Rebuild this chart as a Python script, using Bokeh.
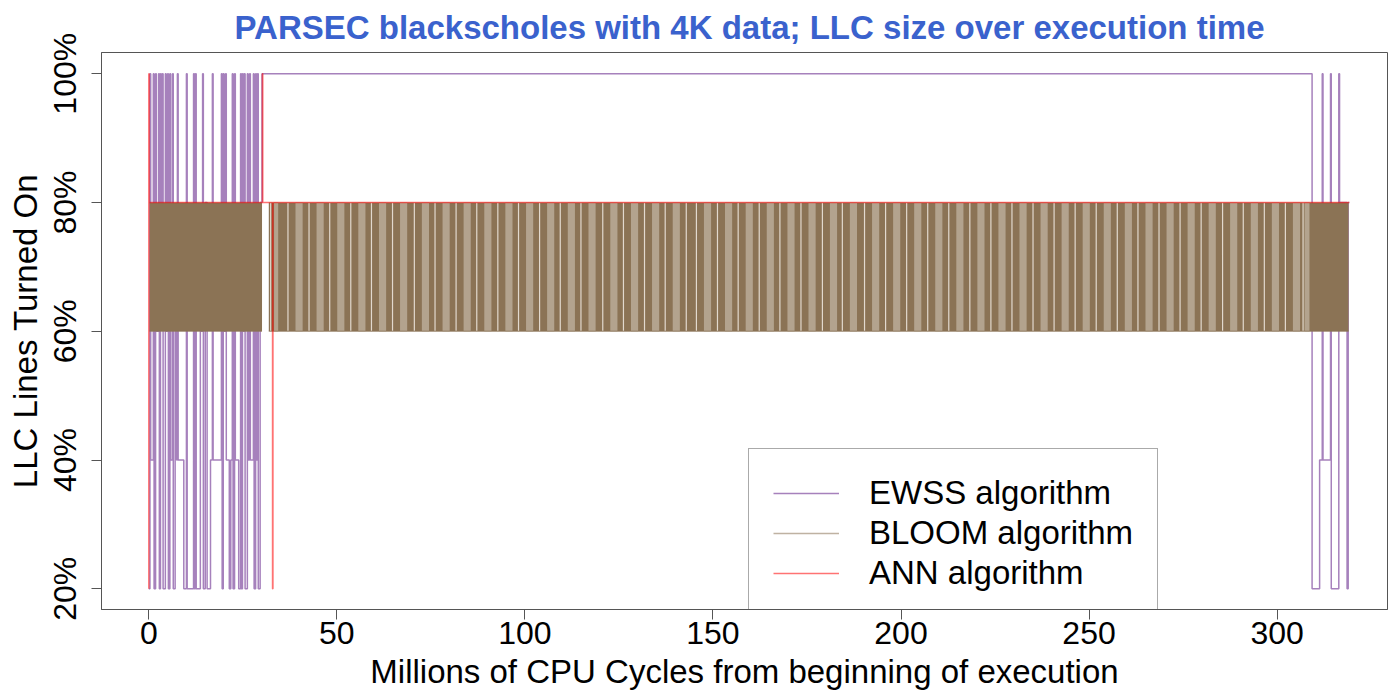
from bokeh.plotting import figure
from bokeh.models import (Range1d, FixedTicker, PrintfTickFormatter,
                          Legend, LegendItem)
from bokeh.embed import file_html
from bokeh.resources import INLINE

# ---------------- data ----------------
title_text = "PARSEC blackscholes with 4K data; LLC size over execution time"
x_label = "Millions of CPU Cycles from beginning of execution"
y_label = "LLC Lines Turned On"
series_names = ["EWSS algorithm", "BLOOM algorithm", "ANN algorithm"]
x_ticks = [0, 50, 100, 150, 200, 250, 300]
y_ticks = [20, 40, 60, 80, 100]

# EWSS: step series (time in millions of cycles, % of LLC lines on)
ewss_t = [0.0, 0.3, 0.5, 1.2, 1.4, 1.8, 2.0, 2.6, 2.8, 3.1, 3.3, 3.6, 3.8, 4.4,
          4.6, 5.0, 5.2, 5.6, 5.8, 6.3, 6.5, 7.0, 7.4, 7.6, 7.8, 9.3, 10.0,
          10.2, 11.9, 12.1, 12.4, 12.6, 13.7, 14.3, 14.5, 15.0, 15.5, 16.4,
          16.9, 17.1, 19.3, 19.5, 19.8, 20.0, 20.4, 20.6, 21.4, 21.8, 22.2,
          22.4, 22.8, 23.0, 23.9, 24.4, 24.6, 24.9, 25.1, 25.4, 25.6, 26.2,
          26.4, 26.8, 27.0, 27.8, 28.0, 28.4, 28.6, 28.9, 29.1, 29.6, 30.1,
          309.3, 311.3, 312.0, 312.2, 314.2, 314.4, 316.4, 316.6, 318.6,
          318.9, 319.2]
ewss_v = [20, 100, 40, 100, 20, 100, 60, 100, 20, 100, 80, 100, 20, 100,
          60, 100, 20, 100, 40, 100, 20, 60, 40, 100, 40, 20, 100,
          20, 100, 20, 100, 20, 60, 100, 20, 80, 20, 40,
          100, 40, 100, 20, 100, 60, 100, 40, 20, 40, 100,
          20, 100, 40, 20, 100, 20, 100, 60, 100, 20, 100,
          40, 100, 40, 100, 20, 100, 40, 100, 20, 80, 100,
          20, 40, 100, 40, 100, 20, 100, 80, 20,
          80, 80]

# ANN: step series
ann_t = [0.0, 0.0, 0.1, 30.2, 30.3, 32.9, 33.0, 319.2]
ann_v = [20, 100, 80, 100, 80, 20, 80, 80]

# BLOOM: rapid oscillation between two levels
bloom_levels = [60, 80]
bloom_dense_start = [0.2, 31.9]
bloom_dense_end = [30.1, 319.0]
# stretches where BLOOM oscillates less often (lighter stripes)
bloom_sparse_start = [33.3, 39.0, 44.6, 50.1, 55.7, 61.2, 66.8, 72.6, 78.1, 83.7,
                      89.2, 94.8, 100.3, 105.9, 111.4, 116.9, 122.7, 128.2, 133.8, 139.3,
                      147.6, 153.2, 158.7, 164.3, 169.8, 175.4, 181.1, 186.4, 192.3, 197.9,
                      203.5, 209.1, 214.7, 220.3, 225.9, 231.5, 237.1, 242.7, 248.3, 253.9,
                      259.5, 265.0, 270.6, 276.2, 281.8, 287.5, 293.0, 298.6, 304.2, 307.3]
bloom_sparse_end = [34.4, 40.9, 46.5, 52.0, 57.6, 63.1, 68.7, 74.5, 80.0, 85.6,
                    91.1, 96.7, 102.2, 107.8, 113.3, 118.8, 124.6, 130.1, 135.7, 141.2,
                    149.5, 155.1, 160.6, 166.2, 171.7, 177.3, 183.0, 188.3, 194.2, 199.8,
                    205.4, 211.0, 216.6, 222.2, 227.8, 233.4, 239.0, 244.6, 250.2, 255.8,
                    261.4, 266.9, 272.5, 278.1, 283.7, 289.4, 294.9, 300.5, 306.1, 308.6]
# brief pauses in the oscillation (thin pale lines)
bloom_pause_t = [32.4, 37.0, 42.6, 48.1, 53.7, 59.2, 64.8, 70.6, 76.1, 81.7,
                 87.2, 92.8, 98.3, 103.9, 109.4, 114.9, 120.7, 126.2, 131.8, 137.3,
                 142.9, 145.6, 151.2, 156.7, 162.3, 167.8, 173.4, 179.1, 184.4, 190.3,
                 195.9, 201.5, 207.1, 212.7, 218.3, 223.9, 229.5, 235.1, 240.7, 246.3,
                 251.9, 257.5, 263.0, 268.6, 274.2, 279.8, 285.5, 291.0, 296.6, 302.2,
                 306.9]

# ---------------- figure ----------------
FONT = "Liberation Sans"
p = figure(width=1388, height=692, output_backend="svg", toolbar_location=None,
           title=title_text,
           x_range=Range1d(-12.58, 329.35), y_range=Range1d(16.79, 103.30),
           min_border_left=101, min_border_right=1, min_border_top=52,
           min_border_bottom=82)
p.grid.visible = False
p.outline_line_color = "#555555"
p.outline_line_width = 1
p.background_fill_color = "white"
p.border_fill_color = "white"

p.title.align = "left"
p.title.offset = 133
p.title.text_font = FONT
p.title.text_font_size = "33px"
p.title.text_font_style = "bold"
p.title.text_color = "#3A62CD"
p.title.standoff = 13

p.xaxis.ticker = FixedTicker(ticks=x_ticks)
p.yaxis.ticker = FixedTicker(ticks=y_ticks)
p.yaxis.formatter = PrintfTickFormatter(format="%d%%")
p.yaxis.major_label_orientation = "vertical"
for ax in (p.xaxis, p.yaxis):
    ax.minor_tick_line_color = None
    ax.major_tick_in = 0
    ax.major_tick_out = 10
    ax.major_tick_line_color = "#555555"
    ax.axis_line_color = "#555555"
    ax.major_label_text_font = FONT
    ax.major_label_text_font_size = "32px"
    ax.major_label_text_color = "black"
    ax.axis_label_text_font = FONT
    ax.axis_label_text_font_size = "33px"
    ax.axis_label_text_font_style = "normal"
    ax.axis_label_text_color = "black"
p.xaxis.axis_label = x_label
p.yaxis.axis_label = y_label
p.xaxis.major_label_standoff = 2
p.xaxis.axis_label_standoff = 6
p.yaxis.major_label_standoff = 8
p.yaxis.axis_label_standoff = 1

# EWSS
ewss_r = p.step(ewss_t, ewss_v, mode="after", line_color="#6b2d8f",
                line_alpha=0.6, line_width=1.5)

# BLOOM
p.quad(left=bloom_dense_start, right=bloom_dense_end,
       bottom=bloom_levels[0], top=bloom_levels[1],
       fill_color="#8B7355", line_color=None)
p.quad(left=bloom_sparse_start, right=bloom_sparse_end,
       bottom=bloom_levels[0], top=bloom_levels[1],
       fill_color="#b3a38e", line_color=None)
p.segment(x0=bloom_pause_t, x1=bloom_pause_t, y0=bloom_levels[0], y1=bloom_levels[1],
          line_color="#e2d9ce", line_width=1.2)
bloom_r = p.segment(x0=bloom_dense_start, x1=bloom_dense_end,
                    y0=bloom_levels[0], y1=bloom_levels[0],
                    line_color="#8B7355", line_alpha=0.55, line_width=1.5)

# ANN
ann_r = p.step(ann_t, ann_v, mode="after", line_color="red",
               line_alpha=0.55, line_width=1.5)

blank1 = p.line([0], [0], line_alpha=0)
blank2 = p.line([0], [0], line_alpha=0)

legend = Legend(items=[
    LegendItem(label=series_names[0], renderers=[ewss_r]),
    LegendItem(label=series_names[1], renderers=[bloom_r]),
    LegendItem(label=series_names[2], renderers=[ann_r]),
    LegendItem(label=" ", renderers=[blank1]),
    LegendItem(label=" ", renderers=[blank2]),
], location=(647, -89), padding=24, spacing=0, label_height=40, glyph_height=40,
   glyph_width=66, label_standoff=30, label_text_font=FONT,
   label_text_font_size="33px", label_text_color="black",
   border_line_color="#555555", border_line_width=1,
   background_fill_alpha=1.0, margin=0)
p.add_layout(legend)

open("out.html", "w").write(file_html(p, INLINE))
